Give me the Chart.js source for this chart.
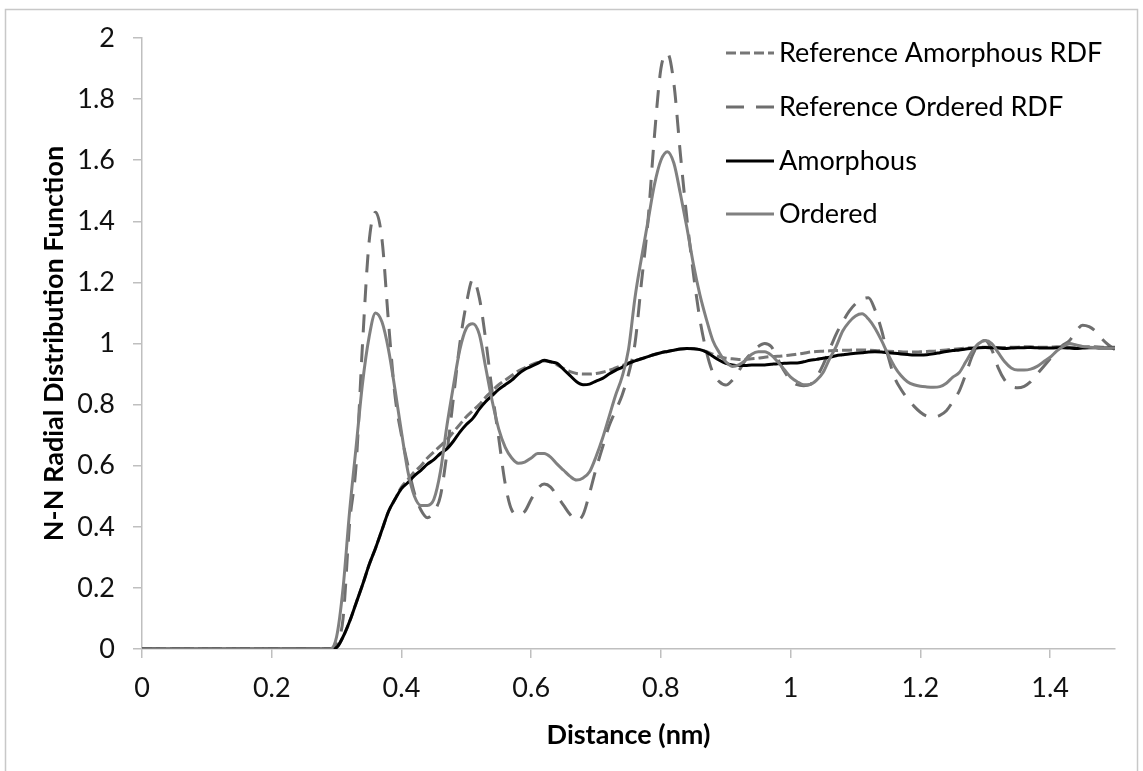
<!DOCTYPE html>
<html><head><meta charset="utf-8">
<script src="https://cdn.jsdelivr.net/npm/chart.js@4.4.1/dist/chart.umd.min.js"></script>
<style>html,body{margin:0;padding:0;background:#fff;}canvas{display:block;}</style>
</head><body>
<canvas id="c" width="1143" height="771"></canvas>
<script>
const seriesNames = ['Reference Amorphous RDF', 'Reference Ordered RDF', 'Amorphous', 'Ordered'];
const xTickValues = [0, 0.2, 0.4, 0.6, 0.8, 1, 1.2, 1.4];
const yTickValues = [0, 0.2, 0.4, 0.6, 0.8, 1, 1.2, 1.4, 1.6, 1.8, 2];
const xTitle = 'Distance (nm)';
const yTitle = 'N-N Radial Distribution Function';

const distance = [0, 0.1, 0.2,
 0.29,0.30,0.31,0.32,0.33,0.34,0.35,0.36,0.37,0.38,0.39,
 0.40,0.41,0.42,0.43,0.44,0.45,0.46,0.47,0.48,0.49,
 0.50,0.51,0.52,0.53,0.54,0.55,0.56,0.57,0.58,0.59,
 0.60,0.61,0.62,0.63,0.64,0.65,0.66,0.67,0.68,0.69,
 0.70,0.71,0.72,0.73,0.74,0.75,0.76,0.77,0.78,0.79,
 0.80,0.81,0.82,0.83,0.84,0.85,0.86,0.87,0.88,0.89,
 0.90,0.91,0.92,0.93,0.94,0.95,0.96,0.97,0.98,0.99,
 1.00,1.01,1.02,1.03,1.04,1.05,1.06,1.07,1.08,1.09,
 1.10,1.11,1.12,1.13,1.14,1.15,1.16,1.17,1.18,1.19,
 1.20,1.21,1.22,1.23,1.24,1.25,1.26,1.27,1.28,1.29,
 1.30,1.31,1.32,1.33,1.34,1.35,1.36,1.37,1.38,1.39,
 1.40,1.41,1.42,1.43,1.44,1.45,1.46,1.47,1.48,1.49,1.50];

const refAmorphous = [0, 0, 0,
 0,0.005,0.04,0.09,0.15,0.21,0.275,0.33,0.39,0.45,0.49,
 0.53,0.555,0.58,0.6,0.625,0.645,0.665,0.685,0.71,0.735,
 0.76,0.78,0.8,0.825,0.845,0.865,0.88,0.895,0.91,0.92,
 0.93,0.938,0.943,0.94,0.93,0.918,0.908,0.902,0.9,0.9,
 0.902,0.906,0.912,0.92,0.928,0.936,0.944,0.95,0.957,0.964,
 0.97,0.974,0.978,0.982,0.984,0.983,0.98,0.974,0.965,0.957,
 0.952,0.95,0.948,0.948,0.95,0.952,0.955,0.957,0.958,0.96,
 0.962,0.965,0.968,0.972,0.974,0.975,0.976,0.977,0.978,0.978,
 0.979,0.979,0.978,0.977,0.976,0.975,0.974,0.973,0.972,0.972,
 0.973,0.974,0.975,0.977,0.979,0.981,0.983,0.985,0.986,0.987,
 0.988,0.988,0.987,0.987,0.988,0.988,0.989,0.989,0.988,0.988,
 0.988,0.989,0.989,0.988,0.988,0.988,0.989,0.989,0.988,0.988,0.988];

const refOrdered = [0, 0, 0,
 0,0.02,0.1,0.41,0.6,1.0,1.33,1.43,1.34,1.07,0.83,
 0.7,0.6,0.51,0.455,0.43,0.45,0.5,0.64,0.82,1.0,
 1.13,1.21,1.15,1.01,0.84,0.69,0.54,0.455,0.44,0.45,
 0.49,0.525,0.54,0.53,0.5,0.47,0.44,0.422,0.44,0.51,
 0.59,0.66,0.73,0.78,0.83,0.9,1.0,1.2,1.4,1.68,
 1.9,1.95,1.85,1.62,1.41,1.23,1.08,0.975,0.905,0.875,
 0.864,0.88,0.91,0.945,0.97,0.99,1.0,0.99,0.95,0.91,
 0.88,0.865,0.862,0.866,0.89,0.93,0.98,1.03,1.07,1.105,
 1.13,1.145,1.15,1.11,1.045,0.96,0.89,0.85,0.82,0.795,
 0.775,0.762,0.76,0.765,0.78,0.81,0.845,0.9,0.96,1.0,
 1.01,0.98,0.92,0.88,0.86,0.855,0.86,0.875,0.9,0.925,
 0.95,0.975,0.995,1.01,1.04,1.06,1.055,1.04,1.015,0.995,0.98];

const amorphous = [0, 0, 0,
 0,0.005,0.04,0.09,0.15,0.21,0.275,0.33,0.39,0.45,0.49,
 0.525,0.545,0.567,0.585,0.605,0.62,0.64,0.655,0.68,0.71,
 0.735,0.755,0.785,0.81,0.83,0.85,0.865,0.88,0.9,0.915,
 0.925,0.935,0.945,0.94,0.935,0.915,0.895,0.875,0.865,0.867,
 0.877,0.886,0.9,0.912,0.922,0.935,0.943,0.95,0.957,0.964,
 0.97,0.974,0.978,0.982,0.984,0.983,0.98,0.972,0.958,0.945,
 0.935,0.93,0.928,0.928,0.93,0.93,0.93,0.932,0.934,0.935,
 0.936,0.936,0.94,0.945,0.948,0.952,0.955,0.96,0.963,0.966,
 0.968,0.97,0.972,0.973,0.972,0.97,0.968,0.966,0.964,0.962,
 0.962,0.963,0.966,0.97,0.974,0.977,0.979,0.982,0.984,0.986,
 0.987,0.986,0.985,0.984,0.985,0.986,0.986,0.987,0.986,0.985,
 0.985,0.986,0.986,0.985,0.984,0.985,0.986,0.986,0.985,0.985,0.985];

const ordered = [0, 0, 0,
 0,0.04,0.2,0.45,0.66,0.87,1.02,1.1,1.07,0.98,0.85,
 0.71,0.58,0.5,0.47,0.47,0.49,0.58,0.73,0.86,0.98,
 1.05,1.065,1.03,0.92,0.81,0.72,0.66,0.625,0.608,0.612,
 0.625,0.64,0.64,0.628,0.605,0.585,0.565,0.553,0.56,0.58,
 0.63,0.69,0.76,0.83,0.89,0.98,1.15,1.28,1.4,1.52,
 1.6,1.628,1.59,1.49,1.38,1.26,1.16,1.08,1.01,0.97,
 0.94,0.925,0.93,0.945,0.965,0.973,0.973,0.962,0.94,0.915,
 0.89,0.875,0.865,0.866,0.88,0.905,0.95,0.99,1.04,1.07,
 1.09,1.097,1.08,1.05,1.01,0.965,0.925,0.895,0.875,0.865,
 0.86,0.858,0.857,0.859,0.87,0.89,0.905,0.94,0.975,1.0,
 1.01,1.0,0.97,0.94,0.92,0.913,0.913,0.916,0.925,0.94,
 0.955,0.975,0.99,1.0,0.995,0.99,0.988,0.987,0.986,0.985,0.985];

const FONT = 'Lato, "Open Sans", sans-serif';
const FS = 27;

function pts(vals) { return distance.map((d, i) => ({ x: d, y: vals[i] })); }
function fmt(v) { return String(Math.round(v * 10) / 10); }

const styles = [
  { color: '#767676', dash: [10, 4], width: 3 },
  { color: '#6e6e6e', dash: [18, 12], width: 3 },
  { color: '#000000', dash: [], width: 3 },
  { color: '#808080', dash: [], width: 3 }
];
const seriesValues = [refAmorphous, refOrdered, amorphous, ordered];

const datasets = seriesNames.map((name, i) => ({
  label: name,
  data: pts(seriesValues[i]),
  borderColor: styles[i].color,
  borderDash: styles[i].dash,
  borderWidth: styles[i].width,
  pointRadius: 0,
  fill: false,
  cubicInterpolationMode: 'monotone',
  order: 4 - i
}));

const frame = {
  id: 'frame',
  beforeDraw(chart) {
    const ctx = chart.ctx;
    ctx.save();
    ctx.fillStyle = '#fff';
    ctx.fillRect(0, 0, chart.width, chart.height);
    ctx.strokeStyle = '#c8c8c8';
    ctx.lineWidth = 1.5;
    ctx.strokeRect(5.5, 9.5, 1132, 820);
    ctx.restore();
  }
};

const legendBox = {
  id: 'legendBox',
  afterDraw(chart) {
    const ctx = chart.ctx;
    ctx.save();
    const x0 = 726, x1 = 774, tx = 779;
    const rows = [53, 107, 161, 214];
    chart.data.datasets.forEach((ds, i) => {
      const y = rows[i];
      ctx.beginPath();
      ctx.strokeStyle = ds.borderColor;
      ctx.lineWidth = ds.borderWidth;
      ctx.setLineDash(ds.borderDash);
      ctx.moveTo(x0, y);
      ctx.lineTo(x1, y);
      ctx.stroke();
      ctx.setLineDash([]);
      ctx.fillStyle = '#000';
      ctx.font = FS + 'px ' + FONT;
      ctx.textBaseline = 'middle';
      ctx.textAlign = 'left';
      ctx.fillText(ds.label, tx, y);
    });
    ctx.restore();
  }
};

new Chart(document.getElementById('c'), {
  type: 'line',
  data: { datasets },
  options: {
    responsive: false,
    animation: false,
    devicePixelRatio: 1,
    layout: { padding: { left: 0, right: 28, top: 38, bottom: 0 } },
    plugins: { legend: { display: false }, tooltip: { enabled: false } },
    scales: {
      x: {
        type: 'linear', min: 0, max: 1.5,
        afterBuildTicks: s => { s.ticks = xTickValues.map(v => ({ value: v })); },
        afterFit: s => { s.height = 122; },
        grid: { drawOnChartArea: false, drawTicks: true, tickLength: 9, color: '#bfbfbf', lineWidth: 1.5 },
        border: { display: true, color: '#bfbfbf', width: 1.5 },
        ticks: { color: '#111', font: { family: FONT, size: FS }, padding: 14, maxRotation: 0, autoSkip: false, callback: v => fmt(v) },
        title: { display: true, text: xTitle, color: '#000', font: { family: FONT, size: FS, weight: 'bold' }, padding: { top: 0, bottom: 20 } }
      },
      y: {
        type: 'linear', min: 0, max: 2,
        afterBuildTicks: s => { s.ticks = yTickValues.map(v => ({ value: v })); },
        afterFit: s => { s.width = 142; },
        grid: { drawOnChartArea: false, drawTicks: true, tickLength: 9, color: '#bfbfbf', lineWidth: 1.5 },
        border: { display: true, color: '#bfbfbf', width: 1.5 },
        ticks: { color: '#111', font: { family: FONT, size: FS }, padding: 18, autoSkip: false, callback: v => fmt(v) },
        title: { display: true, text: yTitle, color: '#000', font: { family: FONT, size: FS, weight: 'bold' }, padding: { top: 38, bottom: 0 } }
      }
    }
  },
  plugins: [frame, legendBox]
});
</script>
</body></html>
